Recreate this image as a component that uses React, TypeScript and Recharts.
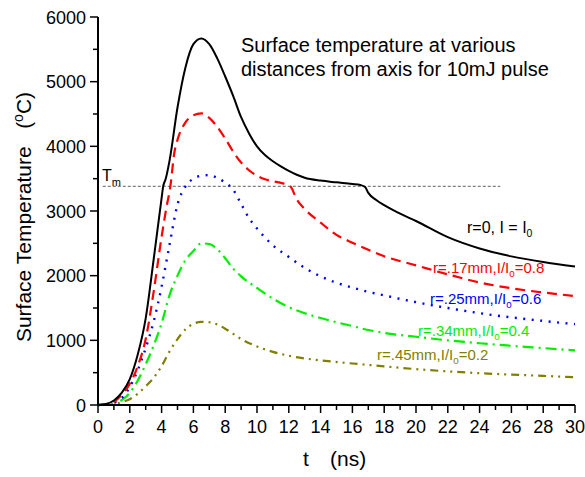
import React from "react";
import { LineChart, Line, XAxis, YAxis, ReferenceLine } from "recharts";

const FONT = "'Liberation Sans', Arial, sans-serif";

// time values (ns) and surface temperature values (°C) per curve
const tBlack = [0, 0.5, 1, 1.5, 2, 2.5, 3, 3.5, 4, 4.1, 4.25, 4.5, 5, 5.5, 6, 6.5, 7, 7.5, 8, 8.5, 9, 9.5, 10, 10.5, 11, 11.5, 12, 12.5, 13, 14, 15, 16, 16.5, 16.8, 17, 17.5, 18, 19, 20, 22, 24, 26, 28, 30];
const vBlack = [0, 15, 70, 190, 400, 780, 1340, 2250, 3200, 3380, 3490, 3780, 4600, 5220, 5580, 5669, 5580, 5360, 5080, 4780, 4450, 4200, 4000, 3865, 3770, 3690, 3620, 3560, 3515, 3470, 3443, 3418, 3402, 3370, 3280, 3170, 3090, 2960, 2845, 2595, 2420, 2298, 2210, 2140];

const tRed = [0, 0.5, 1, 1.5, 2, 2.5, 3, 3.5, 4, 4.3, 4.55, 4.8, 5, 5.5, 6, 6.5, 7, 7.5, 8, 8.5, 9, 9.5, 10, 10.5, 11, 11.5, 12.1, 12.5, 13, 14, 15, 16, 17, 18, 20, 22, 24, 26, 28, 30];
const vRed = [0, 10, 50, 160, 330, 600, 1020, 1750, 2600, 3050, 3380, 3900, 4100, 4370, 4480, 4510, 4440, 4300, 4120, 3920, 3750, 3630, 3545, 3490, 3460, 3435, 3380, 3180, 3030, 2820, 2630, 2510, 2400, 2300, 2160, 2020, 1895, 1805, 1740, 1685];

const tBlue = [0, 0.5, 1, 1.5, 2, 2.5, 3, 3.5, 4, 4.5, 5, 5.5, 6, 6.5, 7, 7.5, 8, 8.5, 9, 9.5, 10, 10.5, 11, 12, 13, 14, 15, 16, 17, 18, 20, 22, 24, 26, 28, 30];
const vBlue = [0, 8, 40, 110, 280, 540, 880, 1290, 1830, 2480, 3100, 3380, 3500, 3545, 3555, 3510, 3440, 3330, 3110, 2890, 2730, 2590, 2470, 2290, 2120, 1990, 1890, 1815, 1750, 1695, 1590, 1500, 1420, 1355, 1300, 1250];

const tGreen = [0, 0.5, 1, 1.5, 2, 2.5, 3, 3.5, 4, 4.5, 5, 5.5, 6, 6.5, 7, 7.5, 8, 8.5, 9, 10, 11, 12, 13, 14, 15, 16, 17, 18, 20, 22, 24, 26, 28, 30];
const vGreen = [0, 5, 25, 77, 190, 380, 630, 920, 1263, 1700, 2000, 2240, 2380, 2500, 2490, 2410, 2270, 2110, 1990, 1810, 1645, 1515, 1420, 1345, 1280, 1220, 1160, 1115, 1055, 1000, 955, 915, 880, 845];

const tOlive = [0, 0.5, 1, 1.5, 2, 2.5, 3, 3.5, 4, 4.5, 5, 5.5, 6, 6.5, 7, 7.5, 8, 8.5, 9, 10, 11, 12, 13, 14, 16, 18, 20, 22, 24, 26, 28, 30];
const vOlive = [0, 3, 15, 45, 90, 175, 290, 420, 600, 830, 1020, 1170, 1255, 1285, 1280, 1245, 1180, 1100, 1020, 905, 822, 762, 720, 690, 642, 598, 555, 520, 492, 470, 450, 430];

const xTicks = Array.from({ length: 31 }, (_, i) => i);
const yTicks = [0, 500, 1000, 1500, 2000, 2500, 3000, 3500, 4000, 4500, 5000, 5500, 6000];
const meltT = 3380;

const toData = (t: number[], v: number[]) => t.map((x, i) => ({ t: x, v: v[i] }));
const blackData = toData(tBlack, vBlack);
const redData = toData(tRed, vRed);
const blueData = toData(tBlue, vBlue);
const greenData = toData(tGreen, vGreen);
const oliveData = toData(tOlive, vOlive);

const XTick = (props: any) => {
  const { x, y, payload } = props;
  const major = payload.value % 2 === 0;
  return (
    <g>
      <line x1={x} x2={x} y1={y} y2={y + (major ? 8 : 5)} stroke="#000" strokeWidth={1.5} />
      {major && (
        <text x={x} y={y + 28} textAnchor="middle" fontSize={18} fontFamily={FONT} fill="#000">
          {payload.value}
        </text>
      )}
    </g>
  );
};

const YTick = (props: any) => {
  const { x, y, payload } = props;
  const major = payload.value % 1000 === 0;
  return (
    <g>
      <line x1={x} x2={x - (major ? 8 : 5)} y1={y} y2={y} stroke="#000" strokeWidth={1.5} />
      {major && (
        <text x={x - 12} y={y + 6.5} textAnchor="end" fontSize={18} fontFamily={FONT} fill="#000">
          {payload.value}
        </text>
      )}
    </g>
  );
};

const Label = ({ x, y, color, main, sub, rest, fs = 15 }: any) => (
  <text x={x} y={y} fontSize={fs} fontFamily={FONT} fill={color}>
    {main}
    <tspan fontSize={fs * 0.65} dy={4}>{sub}</tspan>
    <tspan dy={-4}>{rest}</tspan>
  </text>
);

export default function App() {
  return (
    <div style={{ position: "absolute", left: 0, top: 0, width: 585, height: 477, background: "#fff" }}>
      <LineChart
        width={585}
        height={477}
        margin={{ top: 17, right: 10, bottom: 42, left: 38 }}
        style={{ position: "absolute", left: 0, top: 0 }}
      >
        <XAxis
          dataKey="t"
          type="number"
          domain={[0, 30]}
          ticks={xTicks}
          interval={0}
          height={30}
          tickSize={0}
          tickMargin={0}
          tickLine={false}
          tick={<XTick />}
          axisLine={{ stroke: "#000", strokeWidth: 2 }}
          allowDuplicatedCategory={false}
        />
        <YAxis
          type="number"
          domain={[0, 6000]}
          ticks={yTicks}
          interval={0}
          width={60}
          tickSize={0}
          tickMargin={0}
          tickLine={false}
          tick={<YTick />}
          axisLine={{ stroke: "#000", strokeWidth: 2 }}
        />
        <ReferenceLine
          segment={[{ x: 0.3, y: meltT }, { x: 25.3, y: meltT }]}
          stroke="#808080"
          strokeWidth={1.2}
          strokeDasharray="3 2"
        />
        <Line data={oliveData} dataKey="v" type="monotone" stroke="#808000" strokeWidth={2.2} strokeDasharray="8 5 2 5 2 5" dot={false} isAnimationActive={false} />
        <Line data={greenData} dataKey="v" type="monotone" stroke="#00ee00" strokeWidth={2.2} strokeDasharray="11 5 2 5" dot={false} isAnimationActive={false} />
        <Line data={blueData} dataKey="v" type="monotone" stroke="#0000ff" strokeWidth={2.4} strokeDasharray="2 6.5" dot={false} isAnimationActive={false} />
        <Line data={redData} dataKey="v" type="monotone" stroke="#ff0000" strokeWidth={2.2} strokeDasharray="10 6" dot={false} isAnimationActive={false} />
        <Line data={blackData} dataKey="v" type="monotone" stroke="#000000" strokeWidth={2} dot={false} isAnimationActive={false} />
      </LineChart>
      <svg width={585} height={477} style={{ position: "absolute", left: 0, top: 0, pointerEvents: "none" }}>
        <text x={241} y={51.5} fontSize={20} fontFamily={FONT} fill="#000">Surface temperature at various</text>
        <text x={241} y={76} fontSize={20} fontFamily={FONT} fill="#000">distances from axis for 10mJ pulse</text>
        <text transform="translate(31,217) rotate(-90)" textAnchor="middle" fontSize={21} fontFamily={FONT} fill="#000" style={{ whiteSpace: "pre" }}>
          {"Surface Temperature   ("}
          <tspan fontSize={14} dy={-8}>o</tspan>
          <tspan dy={8}>C)</tspan>
        </text>
        <text x={303} y={466} fontSize={21} fontFamily={FONT} fill="#000">t</text>
        <text x={330} y={466} fontSize={21} fontFamily={FONT} fill="#000">(ns)</text>
        <text x={102} y={181} fontSize={16} fontFamily={FONT} fill="#000">
          T<tspan fontSize={11} dy={5}>m</tspan>
        </text>
        <Label x={467} y={233} color="#000" main="r=0, I = I" sub="0" rest="" fs={16} />
        <Label x={433} y={273} color="#ff0000" main="r=.17mm,I/I" sub="0" rest="=0.8" />
        <Label x={430} y={304} color="#0000ff" main="r=.25mm,I/I" sub="0" rest="=0.6" />
        <Label x={418} y={336} color="#00ee00" main="r=.34mm,I/I" sub="0" rest="=0.4" />
        <Label x={377} y={360} color="#808000" main="r=.45mm,I/I" sub="0" rest="=0.2" />
      </svg>
    </div>
  );
}
